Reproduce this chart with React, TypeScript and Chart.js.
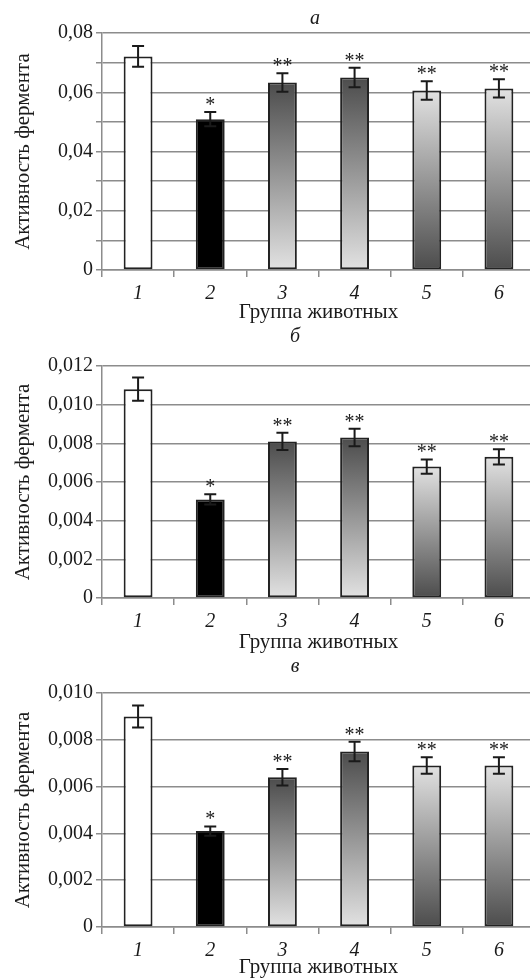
import React, { useEffect, useRef } from "react";
import { Chart, registerables } from "chart.js";

Chart.register(...registerables);

// ---------- data ----------
const groups = ["1", "2", "3", "4", "5", "6"];
const marks = ["", "*", "**", "**", "**", "**"];
const barFills = ["white", "black", "darkTop", "darkTop", "lightTop", "lightTop"];

const aValues = [0.0721, 0.0509, 0.0633, 0.065, 0.0606, 0.0613];
const aErrors = [0.0035, 0.0024, 0.0031, 0.0033, 0.0031, 0.0031];
const aTickStep = 0.01;
const aMax = 0.08;

const bValues = [0.0108, 0.0051, 0.0081, 0.0083, 0.0068, 0.0073];
const bErrors = [0.0006, 0.00026, 0.00045, 0.00045, 0.00037, 0.0004];
const bTickStep = 0.002;
const bMax = 0.012;

const cValues = [0.009, 0.0041, 0.0064, 0.0075, 0.0069, 0.0069];
const cErrors = [0.00047, 0.0002, 0.00035, 0.00042, 0.00035, 0.00035];
const cTickStep = 0.002;
const cMax = 0.01;

const yTitle = "Активность фермента";
const xTitle = "Группа животных";

// ---------- styling / layout ----------
const SERIF = '"Liberation Serif", "Times New Roman", serif';
const TEXT = "#1a1a1a";
const GRID = "#8c8c8c";
const CANVAS_W = 540;
const AREA_RIGHT = 535;
const AXIS_W = 102;

type PanelCfg = {
  letter: string;
  values: number[];
  errors: number[];
  max: number;
  step: number;
  decimals: number;
  labelEvery: number;
  top: number;
  height: number;
  areaTop: number;
  axisHeight: number;
  letterX: number;
  letterY: number;
};

const panels: PanelCfg[] = [
  {
    letter: "a", values: aValues, errors: aErrors, max: aMax, step: aTickStep, decimals: 2, labelEvery: 2,
    top: 0, height: 323, areaTop: 33, axisHeight: 53, letterX: 315, letterY: 19,
  },
  {
    letter: "б", values: bValues, errors: bErrors, max: bMax, step: bTickStep, decimals: 3, labelEvery: 1,
    top: 323, height: 330, areaTop: 43, axisHeight: 55, letterX: 295, letterY: 337 - 323,
  },
  {
    letter: "в", values: cValues, errors: cErrors, max: cMax, step: cTickStep, decimals: 3, labelEvery: 1,
    top: 653, height: 325, areaTop: 40, axisHeight: 51, letterX: 295, letterY: 667 - 653,
  },
];

function fmt(v: number, decimals: number) {
  if (Math.abs(v) < 1e-12) return "0";
  return v.toFixed(decimals).replace(".", ",");
}

function makeOverlay(p: PanelCfg) {
  return {
    id: "overlay_" + p.letter,
    afterDatasetsDraw(chart: any) {
      const { ctx } = chart;
      const ys = chart.scales.y;
      const meta = chart.getDatasetMeta(0);
      ctx.save();
      ctx.strokeStyle = TEXT;
      ctx.lineWidth = 2;
      meta.data.forEach((el: any, i: number) => {
        const v = p.values[i];
        const e = p.errors[i];
        const x = el.x;
        const yt = ys.getPixelForValue(v + e);
        const yb = ys.getPixelForValue(v - e);
        ctx.beginPath();
        ctx.moveTo(x, yt);
        ctx.lineTo(x, yb);
        ctx.moveTo(x - 6, yt);
        ctx.lineTo(x + 6, yt);
        ctx.moveTo(x - 6, yb);
        ctx.lineTo(x + 6, yb);
        ctx.stroke();
        const m = marks[i];
        if (m) {
          ctx.fillStyle = TEXT;
          ctx.font = `20px ${SERIF}`;
          ctx.textAlign = "center";
          ctx.textBaseline = "alphabetic";
          ctx.fillText(m, x, yt - 1);
        }
      });
      ctx.fillStyle = TEXT;
      ctx.font = `italic 20px ${SERIF}`;
      ctx.textAlign = "center";
      ctx.textBaseline = "middle";
      ctx.fillText(p.letter, p.letterX, p.letterY);
      ctx.restore();
    },
  };
}

function Panel({ p }: { p: PanelCfg }) {
  const ref = useRef<HTMLCanvasElement | null>(null);
  useEffect(() => {
    if (!ref.current) return;
    const chart = new Chart(ref.current, {
      type: "bar",
      data: {
        labels: groups,
        datasets: [
          {
            data: p.values,
            borderColor: "#222",
            borderWidth: 2,
            borderSkipped: false,
            barPercentage: 0.4,
            categoryPercentage: 1,
            backgroundColor: (c: any) => {
              if (c.type !== "data") return "#999";
              const kind = barFills[c.dataIndex];
              if (kind === "white") return "#ffffff";
              if (kind === "black") return "#000000";
              const ch = c.chart;
              const ys = ch.scales && ch.scales.y;
              if (!ch.chartArea || !ys) return "#999";
              const top = ys.getPixelForValue(c.raw as number);
              const base = ys.getPixelForValue(0);
              const g = ch.ctx.createLinearGradient(0, top, 0, base);
              const dark = "#4c4c4c";
              const light = "#e2e2e2";
              if (kind === "darkTop") {
                g.addColorStop(0, dark);
                g.addColorStop(1, light);
              } else {
                g.addColorStop(0, light);
                g.addColorStop(1, dark);
              }
              return g;
            },
          } as any,
        ],
      },
      options: {
        animation: false,
        responsive: false,
        devicePixelRatio: 1,
        layout: { padding: { top: p.areaTop, left: 0, right: CANVAS_W - AREA_RIGHT, bottom: 0 } },
        plugins: {
          legend: { display: false },
          tooltip: { enabled: false },
          title: { display: false },
        },
        scales: {
          x: {
            type: "category",
            offset: true,
            grid: {
              display: true,
              drawOnChartArea: false,
              drawTicks: true,
              tickLength: 7,
              color: GRID,
              lineWidth: 1.5,
              offset: true,
            },
            border: { display: true, color: GRID, width: 1.5 },
            ticks: {
              color: TEXT,
              font: { family: SERIF, size: 20, style: "italic" },
              padding: 5,
              maxRotation: 0,
            },
            title: {
              display: true,
              text: xTitle,
              color: TEXT,
              font: { family: SERIF, size: 21, lineHeight: 1 },
              padding: { top: 0, bottom: 0 },
            },
            afterFit: (s: any) => {
              s.height = p.axisHeight;
            },
          },
          y: {
            min: 0,
            max: p.max,
            grid: {
              color: GRID,
              lineWidth: 1.5,
              tickLength: 6,
            },
            border: { display: true, color: GRID, width: 1.5 },
            ticks: {
              stepSize: p.step,
              color: TEXT,
              font: { family: SERIF, size: 20 },
              padding: 3,
              callback: (value: any, index: number) =>
                index % p.labelEvery === 0 ? fmt(Number(value), p.decimals) : "",
            },
            title: {
              display: true,
              text: yTitle,
              color: TEXT,
              font: { family: SERIF, size: 21, lineHeight: 1 },
              padding: { top: 13, bottom: 0 },
            },
            afterFit: (s: any) => {
              s.width = AXIS_W;
            },
          },
        },
      } as any,
      plugins: [makeOverlay(p)],
    });
    return () => chart.destroy();
  }, [p]);
  return (
    <canvas
      ref={ref}
      width={CANVAS_W}
      height={p.height}
      style={{ position: "absolute", left: 0, top: p.top, width: CANVAS_W, height: p.height }}
    />
  );
}

export default function App() {
  return (
    <div
      style={{
        position: "fixed",
        left: 0,
        top: 0,
        width: 530,
        height: 978,
        overflow: "hidden",
        background: "#ffffff",
      }}
    >
      {panels.map((p) => (
        <Panel key={p.letter} p={p} />
      ))}
    </div>
  );
}
